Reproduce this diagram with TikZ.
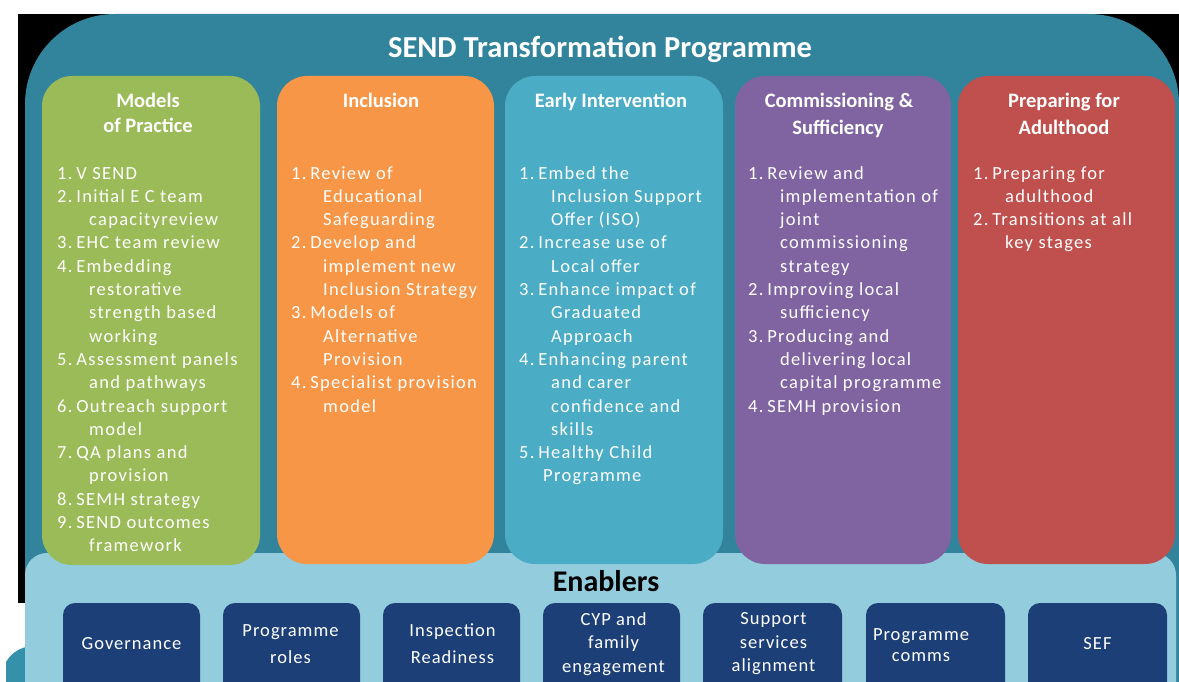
\documentclass[tikz,border=0pt]{standalone}
\usepackage{fontspec}
\setmainfont{Carlito}
\newfontfamily\spacedfont[LetterSpace=7]{Carlito}
\newfontfamily\enfont[LetterSpace=5.5]{Carlito}
\definecolor{tealc}{HTML}{31849B}
\definecolor{greenc}{HTML}{9BBB59}
\definecolor{orangec}{HTML}{F79646}
\definecolor{bluec}{HTML}{4BACC6}
\definecolor{purplec}{HTML}{8064A2}
\definecolor{redc}{HTML}{C0504D}
\definecolor{panelc}{HTML}{93CDDD}
\definecolor{enboxc}{HTML}{1C3F77}
\definecolor{cornerc}{HTML}{3590AA}
\newcommand\nsp{\hspace{3.8pt}}
\tikzset{
  colbox/.style={rounded corners=30},
  enbox/.style={fill=enboxc, rounded corners=12},
  itemtext/.style={anchor=base west, inner sep=0pt, text=white, font=\spacedfont\fontsize{18.5}{22}\selectfont},
  headtext/.style={anchor=base, inner sep=0pt, text=white, font=\bfseries\fontsize{20.5}{24}\selectfont},
  entext/.style={align=center, inner sep=0pt, text=white, font=\enfont\fontsize{18.5}{23.5}\selectfont},
}
\newcommand\itemcolumn[3]{%
  \foreach \dx/\txt [count=\i] in {#3} {
    \node[itemtext] (#1\i) at ({#2+\dx},{179+(\i-1)*23.3}) {\txt};
  }%
}
\begin{document}
\begin{tikzpicture}[x=1pt,y=-1pt]
\useasboundingbox (0,0) rectangle (1179,682);
\fill[white] (0,0) rectangle (1179,682);
% backdrop
\fill[black] (18,14) rectangle (1179,603);
\fill[tealc, rounded corners=90] (25,14) rectangle (1179,800);
% bottom-left fragment
\fill[cornerc] (6,682) -- (6,662) .. controls (12,652) and (20,648) .. (30,646) -- (30,682) -- cycle;
% title
\node[anchor=base, inner sep=0pt, text=white, font=\bfseries\fontsize{30.5}{34}\selectfont] (title) at (600,58) {SEND Transformation Programme};
% enablers panel (behind the columns)
\fill[panelc, rounded corners=22] (25,553) rectangle (1176,800);
% columns
\fill[greenc, colbox] (42,76) rectangle (260,565);
\fill[orangec, colbox] (277,76) rectangle (494,564);
\fill[bluec, colbox] (505,76) rectangle (723,564);
\fill[purplec, colbox] (735,76) rectangle (951,564);
\fill[redc, colbox] (958,76) rectangle (1175,564);
% headings
\node[headtext] (h1a) at (148,108) {Models};
\node[headtext] (h1b) at (148,133) {of Practice};
\node[headtext] (h2a) at (381,108) {Inclusion};
\node[headtext] (h3a) at (611,108) {Early Intervention};
\node[headtext] (h4a) at (839,108) {Commissioning \&};
\node[headtext] (h4b) at (838,135) {Sufficiency};
\node[headtext] (h5a) at (1064,108) {Preparing for};
\node[headtext] (h5b) at (1064,135) {Adulthood};
% items
\itemcolumn{g}{57}{0/1.\nsp{}V SEND, 0/2.\nsp{}Initial E C team, 32/capacityreview, 0/3.\nsp{}EHC team review, 0/4.\nsp{}Embedding, 32/restorative, 32/strength based, 32/working, 0/5.\nsp{}Assessment panels, 32/and pathways, 0/6.\nsp{}Outreach support, 32/model, 0/7.\nsp{}QA plans and, 32/provision, 0/8.\nsp{}SEMH strategy, 0/9.\nsp{}SEND outcomes, 32/framework}
\itemcolumn{o}{291}{0/1.\nsp{}Review of, 32/Educational, 32/Safeguarding, 0/2.\nsp{}Develop and, 32/implement new, 32/Inclusion Strategy, 0/3.\nsp{}Models of, 32/Alternative, 32/Provision, 0/4.\nsp{}Specialist provision, 32/model}
\itemcolumn{b}{519}{0/1.\nsp{}Embed the, 32/Inclusion Support, 32/Offer (ISO), 0/2.\nsp{}Increase use of, 32/Local offer, 0/3.\nsp{}Enhance impact of, 32/Graduated, 32/Approach, 0/4.\nsp{}Enhancing parent, 32/and carer, 32/confidence and, 32/skills, 0/5.\nsp{}Healthy Child, 24/Programme}
\itemcolumn{p}{748}{0/1.\nsp{}Review and, 32/implementation of, 32/joint, 32/commissioning, 32/strategy, 0/2.\nsp{}Improving local, 32/sufficiency, 0/3.\nsp{}Producing and, 32/delivering local, 32/capital programme, 0/4.\nsp{}SEMH provision}
\itemcolumn{r}{973}{0/1.\nsp{}Preparing for, 32/adulthood, 0/2.\nsp{}Transitions at all, 32/key stages}
% enablers
\node[anchor=base, inner sep=0pt, text=black, font=\bfseries\fontsize{30}{34}\selectfont] (enablers) at (606,591) {Enablers};
\fill[enbox] (63,603) rectangle (200,720);
\fill[enbox] (223,603) rectangle (360,720);
\fill[enbox] (383,603) rectangle (520,720);
\fill[enbox] (543,603) rectangle (680,720);
\fill[enbox] (703,603) rectangle (842,720);
\fill[enbox] (866,603) rectangle (1005,720);
\fill[enbox] (1028,603) rectangle (1167,720);
\node[entext] (e1) at (131.5,644) {Governance};
\node[entext, font=\enfont\fontsize{18.5}{27}\selectfont] (e2) at (290.5,644) {Programme\\roles};
\node[entext, font=\enfont\fontsize{18.5}{27}\selectfont] (e3) at (452.5,644) {Inspection\\Readiness};
\node[entext] (e4) at (613.5,644) {CYP and\\family\\engagement};
\node[entext] (e5) at (773.5,644) {Support\\services\\alignment};
\node[entext, font=\enfont\fontsize{18.5}{20.5}\selectfont] (e6) at (921,645) {Programme\\comms};
\node[entext] (e7) at (1097.5,644) {SEF};
\end{tikzpicture}
\end{document}
